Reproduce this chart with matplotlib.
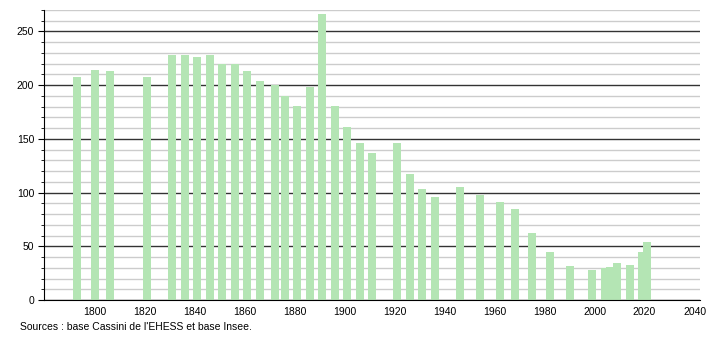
import matplotlib
matplotlib.use("Agg")
import matplotlib.pyplot as plt
from matplotlib.ticker import MultipleLocator

years = [1793, 1800, 1806, 1821, 1831, 1836, 1841, 1846, 1851, 1856,
         1861, 1866, 1872, 1876, 1881, 1886, 1891, 1896, 1901, 1906,
         1911, 1921, 1926, 1931, 1936, 1946, 1954, 1962, 1968, 1975,
         1982, 1990, 1999, 2004, 2006, 2009, 2014, 2019, 2021]
population = [208, 214, 213, 208, 228, 228, 226, 228, 220, 220,
              213, 204, 200, 190, 181, 198, 266, 181, 161, 146,
              137, 146, 117, 103, 96, 105, 98, 91, 85, 62,
              45, 32, 28, 30, 31, 34, 33, 45, 54]
x_ticks = list(range(1800, 2041, 20))
source = "Sources : base Cassini de l'EHESS et base Insee."

plt.rcParams['font.family'] = ['Liberation Sans', 'DejaVu Sans']

fig = plt.figure(figsize=(7.1, 3.4), dpi=100)
ax = fig.add_axes([44 / 710, 40 / 340, 656 / 710, 290 / 340])

ax.bar(years, population, width=3.2, color='#b4e5b4', zorder=3)

ax.set_xlim(1779.6, 2042.2)
ax.set_ylim(0, 270)
ax.set_xticks(x_ticks)
ax.yaxis.set_major_locator(MultipleLocator(50))
ax.yaxis.set_minor_locator(MultipleLocator(10))

ax.grid(axis='y', which='minor', color='#cccccc', linewidth=1, zorder=1)
ax.grid(axis='y', which='major', color='#333333', linewidth=1, zorder=2)

for side in ['top', 'right']:
    ax.spines[side].set_visible(False)
ax.spines['left'].set_color('black')
ax.spines['bottom'].set_color('black')
ax.spines['left'].set_zorder(4)
ax.spines['bottom'].set_zorder(4)

ax.tick_params(axis='x', length=0, pad=5, labelsize=7.5)
ax.tick_params(axis='y', which='major', length=4, pad=3, labelsize=7.5)
ax.tick_params(axis='y', which='minor', length=2)

fig.text(20 / 710, 1 - 327 / 340, source, fontsize=7.5, va='center', ha='left')

fig.savefig("out.png", dpi=100)
